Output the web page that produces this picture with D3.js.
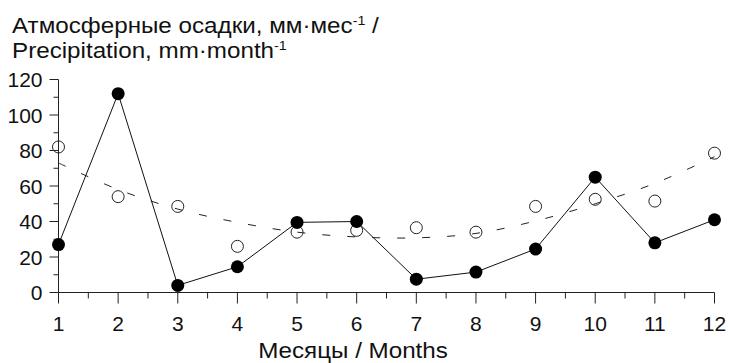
<!DOCTYPE html>
<html>
<head>
<meta charset="utf-8">
<script src="https://cdn.jsdelivr.net/npm/d3@7"></script>
<style>
  html, body { margin: 0; padding: 0; background: #fff; }
  svg { display: block; font-family: Arial, "Liberation Sans", sans-serif; }
</style>
</head>
<body>
<svg id="chart" width="729" height="363"></svg>
<script>
// Monthly precipitation, mm per month
const months = [1, 2, 3, 4, 5, 6, 7, 8, 9, 10, 11, 12];
const precipYear = [27, 112, 4, 14.5, 39.5, 40, 7.5, 11.5, 24.5, 65, 28, 41];
const precipNorm = [82, 54, 48.5, 26, 34, 35, 36.5, 34, 48.5, 52.5, 51.5, 78.5];
const normTrend = [73, 58, 47, 39.5, 34, 31.3, 30.8, 33.3, 40.3, 50, 61.5, 76.5];
const yTicks = [0, 20, 40, 60, 80, 100, 120];
const yMinorTicks = [10, 30, 50, 70, 90, 110];
const xMinorTicks = [1.5, 2.5, 3.5, 4.5, 5.5, 6.5, 7.5, 8.5, 9.5, 10.5, 11.5];

const svg = d3.select("#chart");

const x = d3.scaleLinear().domain([1, 12]).range([58.5, 714.5]);
const y = d3.scaleLinear().domain([0, 120]).range([292.5, 79.5]);

const axisColor = "#222";
const textColor = "#111";

// Y axis: major ticks with labels, minor ticks between
const yAxis = svg.append("g").attr("transform", `translate(${x(1)},0)`);
yAxis.append("line")
  .attr("x1", 0).attr("x2", 0)
  .attr("y1", y(120)).attr("y2", y(0))
  .attr("stroke", axisColor).attr("stroke-width", 1);
yAxis.selectAll("line.major").data(yTicks).join("line")
  .attr("class", "major")
  .attr("x1", -9).attr("x2", 0)
  .attr("y1", d => y(d)).attr("y2", d => y(d))
  .attr("stroke", axisColor);
yAxis.selectAll("line.minor").data(yMinorTicks).join("line")
  .attr("class", "minor")
  .attr("x1", -5).attr("x2", 0)
  .attr("y1", d => y(d)).attr("y2", d => y(d))
  .attr("stroke", axisColor);
yAxis.selectAll("text").data(yTicks).join("text")
  .attr("x", -16).attr("y", d => y(d))
  .attr("dy", "0.36em")
  .attr("text-anchor", "end")
  .attr("font-size", 21)
  .attr("fill", textColor)
  .text(d => d);

// X axis
const xAxis = svg.append("g").attr("transform", `translate(0,${y(0)})`);
xAxis.append("line")
  .attr("x1", x(1)).attr("x2", x(12))
  .attr("y1", 0).attr("y2", 0)
  .attr("stroke", axisColor);
xAxis.selectAll("line.major").data(months).join("line")
  .attr("class", "major")
  .attr("x1", d => x(d)).attr("x2", d => x(d))
  .attr("y1", 0).attr("y2", 11)
  .attr("stroke", axisColor);
xAxis.selectAll("line.minor").data(xMinorTicks).join("line")
  .attr("class", "minor")
  .attr("x1", d => x(d)).attr("x2", d => x(d))
  .attr("y1", 0).attr("y2", 6)
  .attr("stroke", axisColor);
xAxis.selectAll("text").data(months).join("text")
  .attr("x", d => x(d)).attr("y", 31)
  .attr("dy", "0.36em")
  .attr("text-anchor", "middle")
  .attr("font-size", 21)
  .attr("fill", textColor)
  .text(d => d);

// Y axis title, two lines, slightly widened lettering
const yTitle = svg.append("g").attr("transform", "translate(12,0) scale(1.1,1)");
const title1 = yTitle.append("text")
  .attr("x", 0).attr("y", 33)
  .attr("font-size", 22)
  .attr("fill", textColor);
title1.append("tspan").text("Атмосферные осадки, мм·мес");
title1.append("tspan").attr("dy", -8).attr("font-size", 13).text("-1");
title1.append("tspan").attr("dy", 8).text(" /");

const title2 = yTitle.append("text")
  .attr("x", 0).attr("y", 58)
  .attr("font-size", 22)
  .attr("fill", textColor);
title2.append("tspan").text("Precipitation, mm·month");
title2.append("tspan").attr("dy", -8).attr("font-size", 13).text("-1");

// X axis title
svg.append("g").attr("transform", "translate(353,358) scale(1.1,1)")
  .append("text")
  .attr("x", 0).attr("y", 0)
  .attr("text-anchor", "middle")
  .attr("font-size", 22)
  .attr("fill", textColor)
  .text("Месяцы / Months");

// Smooth dashed trend of the long-term norm
const trendLine = d3.line()
  .x((d, i) => x(months[i]))
  .y(d => y(d))
  .curve(d3.curveCatmullRom);
svg.append("path")
  .datum(normTrend)
  .attr("d", trendLine)
  .attr("fill", "none")
  .attr("stroke", "#222")
  .attr("stroke-width", 1)
  .attr("stroke-dasharray", "8,17");

// Solid line through the monthly totals
const yearLine = d3.line()
  .x((d, i) => x(months[i]))
  .y(d => y(d));
svg.append("path")
  .datum(precipYear)
  .attr("d", yearLine)
  .attr("fill", "none")
  .attr("stroke", "#111")
  .attr("stroke-width", 1);

// Open circles: long-term norm
svg.append("g").selectAll("circle").data(precipNorm).join("circle")
  .attr("cx", (d, i) => x(months[i]))
  .attr("cy", d => y(d))
  .attr("r", 6)
  .attr("fill", "none")
  .attr("stroke", "#222")
  .attr("stroke-width", 1);

// Filled circles: monthly totals
svg.append("g").selectAll("circle").data(precipYear).join("circle")
  .attr("cx", (d, i) => x(months[i]))
  .attr("cy", d => y(d))
  .attr("r", 6.5)
  .attr("fill", "#000");
</script>
</body>
</html>
